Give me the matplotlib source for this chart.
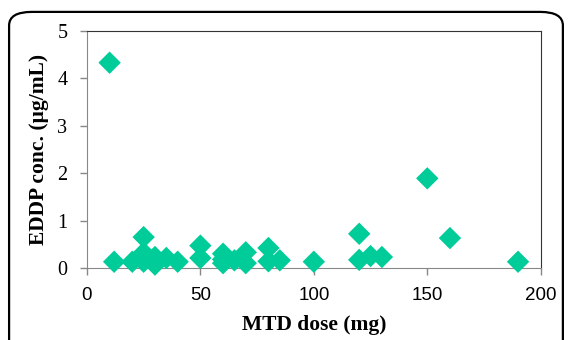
import matplotlib.pyplot as plt
from matplotlib.patches import FancyBboxPatch

# MTD dose (mg) and EDDP concentration (ug/mL)
dose = [10, 12, 20, 25, 25, 25, 30, 30, 35, 40, 50, 50, 60, 60, 60, 65,
        70, 70, 80, 80, 85, 100, 120, 120, 125, 130, 150, 160, 190]
eddp = [4.33, 0.13, 0.13, 0.65, 0.32, 0.13, 0.23, 0.07, 0.21, 0.13, 0.47,
        0.21, 0.30, 0.18, 0.10, 0.16, 0.33, 0.10, 0.42, 0.14, 0.16, 0.13,
        0.72, 0.17, 0.25, 0.23, 1.89, 0.63, 0.13]

serif = 'Liberation Serif'
sans = 'Liberation Sans'

fig = plt.figure(figsize=(5.68, 3.4), dpi=100)
ax = fig.add_axes([0.153, 0.212, 0.799, 0.697])

# rounded border around the chart
frame = FancyBboxPatch((0.016, -0.05), 0.975, 1.015,
                       boxstyle='round,pad=0,rounding_size=0.04',
                       transform=fig.transFigure, fill=False,
                       edgecolor='black', linewidth=1.6, clip_on=False)
fig.patches.append(frame)

ax.scatter(dose, eddp, marker='D', s=130, color='#00CC99', edgecolors='none',
           zorder=3, clip_on=False)

ax.set_xlim(0, 200)
ax.set_ylim(0, 5)
ax.set_xticks([0, 50, 100, 150, 200])
ax.set_yticks([0, 1, 2, 3, 4, 5])

for side in ['left', 'bottom']:
    ax.spines[side].set_color('#888888')
for side in ['top', 'right']:
    ax.spines[side].set_color('#333333')
ax.tick_params(direction='out', length=5, color='#888888', width=1)
ax.tick_params(axis='x', pad=9)
ax.tick_params(axis='y', pad=9)

for lab in ax.get_xticklabels():
    lab.set_fontfamily(sans)
    lab.set_fontsize(13.5)
for lab in ax.get_yticklabels():
    lab.set_fontfamily(serif)
    lab.set_fontsize(14.5)

ax.set_xlabel('MTD dose (mg)', fontfamily=serif, fontweight='bold',
              fontsize=15.5, labelpad=8)
ax.set_ylabel('EDDP conc. (\u03bcg/mL)', fontfamily=serif, fontweight='bold',
              fontsize=15.5, labelpad=6)

plt.savefig('out.png', dpi=100)
